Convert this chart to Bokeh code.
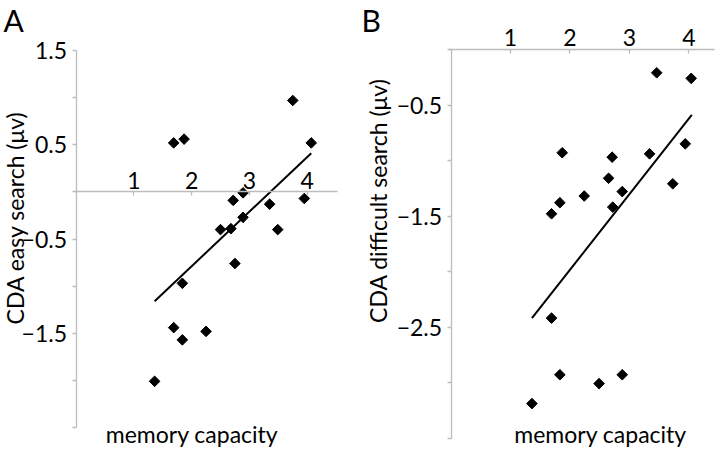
import numpy as np
from bokeh.plotting import figure
from bokeh.models import LinearAxis, FixedTicker, Label, Range1d
from bokeh.layouts import row
from bokeh.embed import file_html
from bokeh.resources import INLINE

# ---------------- data ----------------
cap_a = [1.69, 1.87, 3.75, 4.07, 2.89, 2.72, 3.35, 3.95, 2.89, 2.50, 2.68, 3.49,
         2.75, 1.84, 1.69, 1.84, 2.25, 1.36]
cda_easy = [0.52, 0.56, 0.97, 0.52, -0.01, -0.09, -0.13, -0.07, -0.27, -0.40, -0.39, -0.40,
            -0.76, -0.97, -1.44, -1.57, -1.48, -2.01]
cap_b = [3.46, 4.04, 3.94, 1.87, 2.71, 3.34, 2.65, 3.73, 2.88, 2.24, 1.83, 1.69,
         2.72, 1.69, 1.83, 2.88, 2.49, 1.36]
cda_diff = [-0.21, -0.26, -0.85, -0.93, -0.97, -0.94, -1.16, -1.21, -1.28, -1.32, -1.38, -1.48,
            -1.42, -2.42, -2.93, -2.93, -3.01, -3.19]
fit_a_x = [1.36, 4.07]
fit_a_y = [-1.16, 0.41]
fit_b_x = [1.36, 4.05]
fit_b_y = [-2.42, -0.59]
x_ticks = [1, 2, 3, 4]
y_ticks_a = [1.5, 0.5, -0.5, -1.5]
y_minor_a = [1.0, 0.0, -1.0, -2.0, -2.5]
y_ticks_b = [-0.5, -1.5, -2.5]
y_minor_b = [0.0, -1.0, -2.0, -3.0, -3.5]
title_a = "CDA easy search (μv)"
title_b = "CDA difficult search (μv)"
x_title = "memory capacity"

FONT = "Lato"
GRAY = "#bcbcbc"
W, H = 360, 450


def make_fig(x0px, xunit, y0px, yunit):
    """Full-canvas frame; x0px/y0px = pixel of data origin, *unit = px per unit."""
    xr = (-x0px / xunit, (W - x0px) / xunit)
    yr = (-(H - y0px) / yunit, y0px / yunit)
    p = figure(width=W, height=H, x_range=Range1d(*xr), y_range=Range1d(*yr),
               x_axis_location=None, y_axis_location=None, title=None,
               min_border=0, min_border_left=0, min_border_right=0,
               min_border_top=0, min_border_bottom=0,
               output_backend="svg", toolbar_location=None)
    p.outline_line_color = None
    p.grid.grid_line_color = None
    p.background_fill_color = "white"
    p.border_fill_color = "white"
    return p


def style_axis(ax, standoff):
    ax.axis_line_color = GRAY
    ax.axis_line_width = 1.3
    ax.major_tick_line_color = GRAY
    ax.minor_tick_line_color = GRAY
    ax.major_tick_line_width = 1.3
    ax.minor_tick_line_width = 1.3
    ax.major_label_text_font = FONT
    ax.major_label_text_font_size = "23px"
    ax.major_label_text_color = "black"
    ax.major_label_standoff = standoff


def add_text(p, fx, fy, text, size, angle=0.0, align="center"):
    xr, yr = p.x_range, p.y_range
    dx = xr.start + fx / W * (xr.end - xr.start)
    dy = yr.end - fy / H * (yr.end - yr.start)
    p.add_layout(Label(x=dx, y=dy, text=text, angle=angle, text_align=align,
                       text_baseline="middle", text_font=FONT, text_font_size=size,
                       text_color="black"))


def add_axes(p, yt, ym, ybounds, xbounds, xstand):
    ya = LinearAxis(ticker=FixedTicker(ticks=yt, minor_ticks=ym), fixed_location=0,
                    bounds=ybounds)
    ya.major_tick_out = 4
    ya.major_tick_in = 0
    ya.minor_tick_out = 4
    ya.minor_tick_in = 0
    style_axis(ya, 5)
    p.add_layout(ya, "left")
    xa = LinearAxis(ticker=FixedTicker(ticks=x_ticks, minor_ticks=[]), fixed_location=0,
                    bounds=xbounds)
    xa.major_tick_in = 4
    xa.major_tick_out = 0
    xa.minor_tick_in = 0
    xa.minor_tick_out = 0
    style_axis(xa, xstand)
    p.add_layout(xa, "above")


# ---------------- panel A ----------------
pa = make_fig(75.5, 57.8, 191.4, 94.25)
add_axes(pa, y_ticks_a, y_minor_a, (-2.5, 1.5), (-0.03, 4.52), 3)
pa.line(fit_a_x, fit_a_y, line_color="black", line_width=2)
pa.scatter(cap_a, cda_easy, marker="square", angle=np.pi / 4, size=7.5,
           fill_color="black", line_color="black")
add_text(pa, 14, 217, title_a, "23px", angle=np.pi / 2)
add_text(pa, 191.5, 433, x_title, "23px")
add_text(pa, 3, 19, "A", "30px", align="left")

# ---------------- panel B ----------------
pb = make_fig(90.6, 59.43, 49.0, 111.0)
add_axes(pb, y_ticks_b, y_minor_b, (-3.5, 0), (-0.03, 4.43), 4)
pb.line(fit_b_x, fit_b_y, line_color="black", line_width=2)
pb.scatter(cap_b, cda_diff, marker="square", angle=np.pi / 4, size=7.5,
           fill_color="black", line_color="black")
add_text(pb, 17, 200, title_b, "23px", angle=np.pi / 2)
add_text(pb, 240, 433, x_title, "23px")
add_text(pb, 1, 19, "B", "30px", align="left")

layout = row(pa, pb)
open("out.html", "w").write(file_html(layout, INLINE))
